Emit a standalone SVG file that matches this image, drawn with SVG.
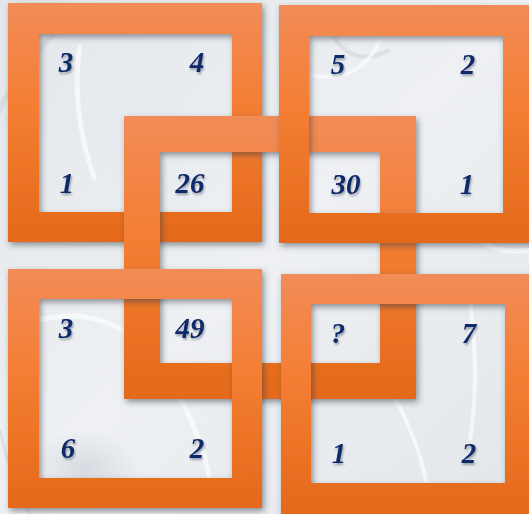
<svg xmlns="http://www.w3.org/2000/svg" width="529" height="514" viewBox="0 0 529 514">
  <defs>
    <linearGradient id="og" x1="0" y1="0" x2="0" y2="1">
      <stop offset="0" stop-color="#F28C58"/>
      <stop offset="0.45" stop-color="#F47D32"/>
      <stop offset="1" stop-color="#E4691A"/>
    </linearGradient>
    <linearGradient id="bg" x1="0" y1="0" x2="1" y2="1">
      <stop offset="0" stop-color="#E3E7EB"/>
      <stop offset="0.5" stop-color="#EEF0F3"/>
      <stop offset="1" stop-color="#E2E6EA"/>
    </linearGradient>
    <radialGradient id="blob" cx="0.5" cy="0.5" r="0.5">
      <stop offset="0" stop-color="#CDD3DA" stop-opacity="0.7"/>
      <stop offset="1" stop-color="#CDD3DA" stop-opacity="0"/>
    </radialGradient>
    <filter id="sh" x="-10%" y="-10%" width="125%" height="125%">
      <feDropShadow dx="2" dy="3" stdDeviation="3" flood-color="#3A3F48" flood-opacity="0.55"/>
    </filter>
    <filter id="tsh" x="-30%" y="-30%" width="160%" height="160%">
      <feDropShadow dx="1" dy="2" stdDeviation="1.2" flood-color="#556070" flood-opacity="0.55"/>
    </filter>
    <style>
      .frame { fill: url(#og); fill-rule: evenodd; filter: url(#sh); }
      .num { font-family: "Liberation Serif", "DejaVu Serif", serif; font-style: italic; font-weight: bold; font-size: 29px; fill: #0E2A6A; text-anchor: middle; filter: url(#tsh); }
      .swirl { fill: none; stroke: #FFFFFF; stroke-opacity: 0.6; }
      .swirlg { fill: none; stroke: #C9CFD6; stroke-opacity: 0.45; }
    </style>
  </defs>

  <g id="background">
    <rect x="0" y="0" width="529" height="514" fill="url(#bg)"/>
    <path class="swirlg" stroke-width="6" d="M-10 130 Q 20 60 70 20"/>
    <path class="swirl" stroke-width="5" d="M80 45 Q 70 110 95 180"/>
    <path class="swirlg" stroke-width="4" d="M330 30 Q 350 70 390 50"/>
    <path class="swirl" stroke-width="4" d="M310 75 Q 360 85 380 40"/>
    <path class="swirl" stroke-width="5" d="M40 320 Q 120 300 170 380 Q 200 430 210 480"/>
    <ellipse cx="85" cy="470" rx="55" ry="40" fill="url(#blob)"/>
    <path class="swirl" stroke-width="4" d="M390 390 Q 420 440 430 500"/>
    <path class="swirl" stroke-width="4" d="M470 300 Q 480 380 470 440"/>
    <path class="swirlg" stroke-width="3" d="M0 430 Q 10 480 30 514"/>
    <path class="swirl" stroke-width="5" d="M480 240 Q 500 255 529 250"/>
  </g>

  <g id="square-top-left">
    <path class="frame" d="M8 3 H262 V242 H8 Z M39 34 V212 H232 V34 Z"/>
    <text class="num" x="66" y="72">3</text>
    <text class="num" x="197" y="72">4</text>
    <text class="num" x="67" y="193">1</text>
    <text class="num" x="190" y="193">26</text>
  </g>

  <g id="square-center">
    <path class="frame" d="M124 116 H416 V399 H124 Z M160 152 V363 H380 V152 Z"/>
  </g>

  <g id="square-bottom-left">
    <path class="frame" d="M8 269 H262 V508 H8 Z M39 299 V478 H232 V299 Z"/>
    <text class="num" x="66" y="338">3</text>
    <text class="num" x="190" y="338">49</text>
    <text class="num" x="68" y="458">6</text>
    <text class="num" x="197" y="458">2</text>
  </g>

  <g id="square-top-right">
    <path class="frame" d="M279 5 H534 V243 H279 Z M309 36 V213 H503 V36 Z"/>
    <text class="num" x="338" y="74">5</text>
    <text class="num" x="468" y="74">2</text>
    <text class="num" x="346" y="194">30</text>
    <text class="num" x="467" y="194">1</text>
  </g>

  <g id="square-bottom-right">
    <path class="frame" d="M281 274 H535 V514 H281 Z M311 304 V483 H505 V304 Z"/>
    <text class="num" x="338" y="343">?</text>
    <text class="num" x="469" y="343">7</text>
    <text class="num" x="339" y="463">1</text>
    <text class="num" x="469" y="463">2</text>
  </g>

  <g id="connectors"/>
</svg>
